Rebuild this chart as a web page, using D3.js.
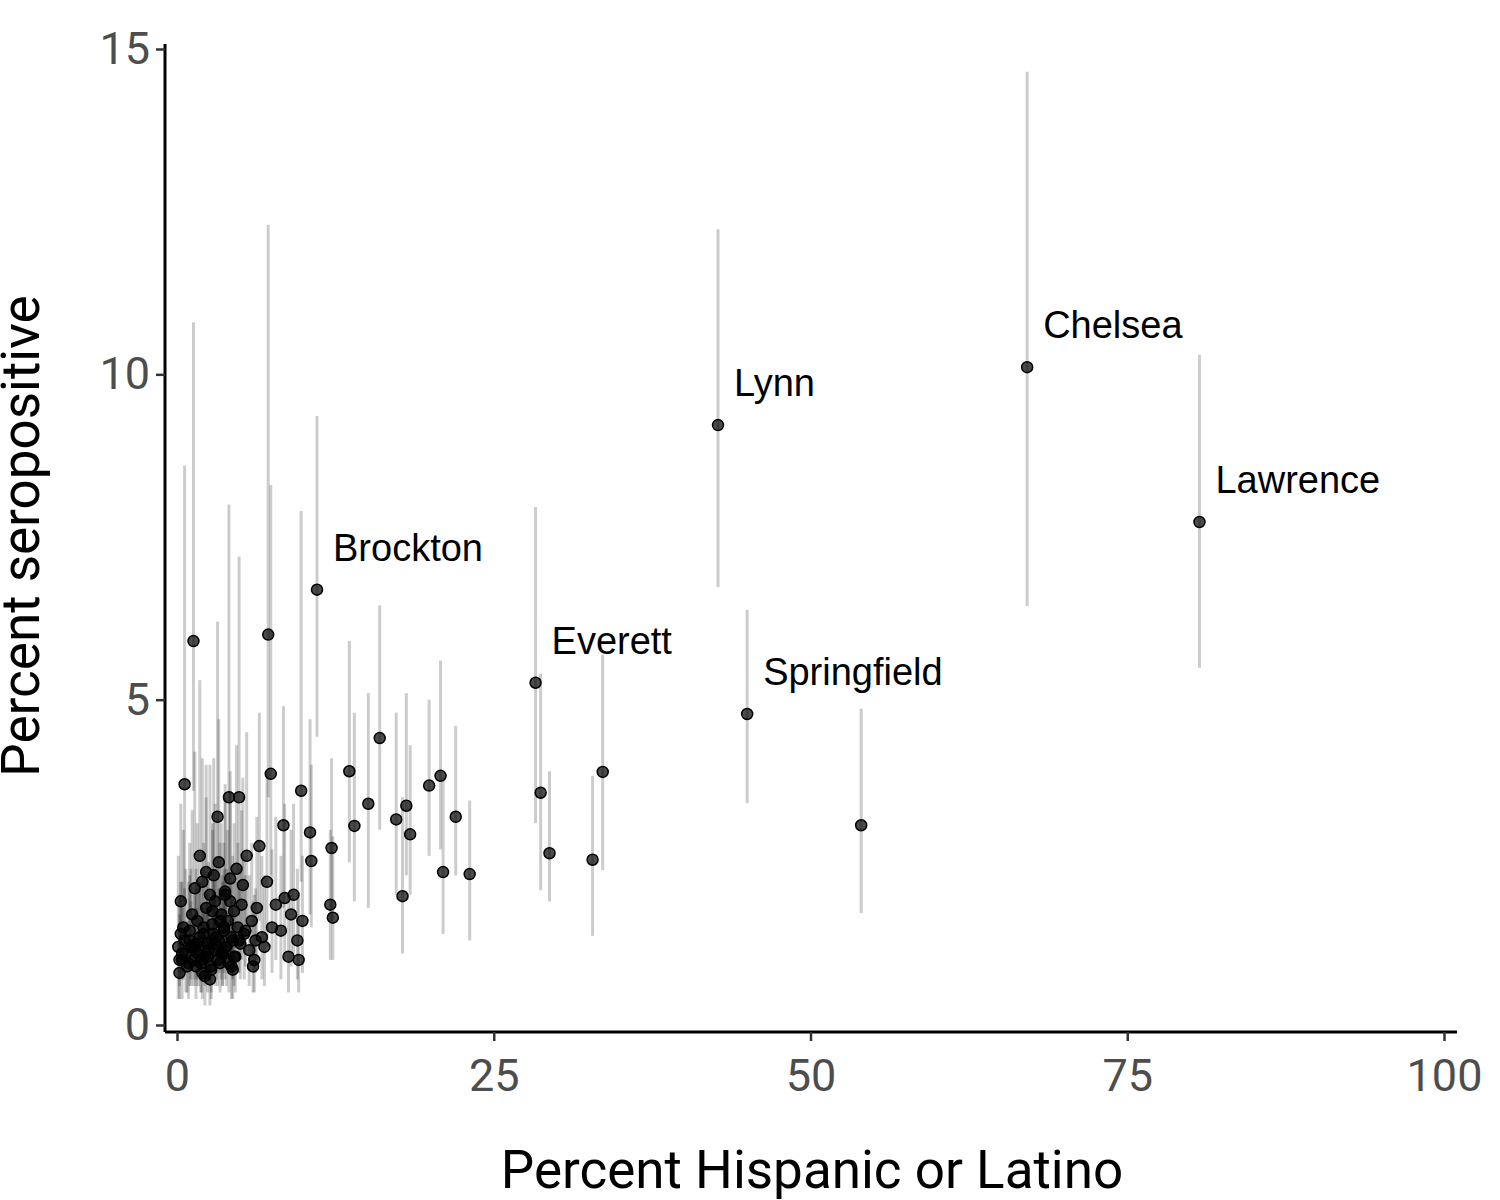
<!DOCTYPE html>
<html><head><meta charset="utf-8">
<script src="https://cdn.jsdelivr.net/npm/d3@7"></script>
<style>body{margin:0;background:#fff}</style>
</head><body>
<div id="chart"></div>
<script>
// Labelled towns
const labelNames = ['Chelsea', 'Lawrence', 'Lynn', 'Springfield', 'Everett', 'Brockton'];
const labelX  = [67.1, 80.7, 42.7, 45.0, 28.3, 11.05];
const labelY  = [10.11, 7.73, 9.22, 4.78, 5.26, 6.69];
const labelLo = [6.44, 5.49, 6.73, 3.41, 3.1, 4.43];
const labelHi = [14.65, 10.3, 12.23, 6.38, 7.96, 9.36];

// Other towns
const townX  = [54.0, 33.6, 32.8, 29.4, 28.7, 23.1, 22.0, 21.0, 20.8, 19.9, 18.4, 18.1, 17.8, 17.3, 16.0, 15.1, 14.0, 13.6, 12.3, 12.1, 12.2, 10.6, 10.5, 9.9, 9.8, 8.4, 7.4, 7.2, 1.3, 0.6, 4.9, 4.1, 3.2,
  0.1, 0.2, 0.3, 0.5, 0.7, 0.9, 1.0, 1.2, 1.4, 1.5, 1.6, 1.8, 1.9, 2.0, 2.1, 2.2, 2.3, 2.4, 2.5, 2.6, 2.7, 2.8, 2.9, 3.0, 3.1, 3.3, 3.4, 3.5, 3.6, 3.7, 3.8, 3.9, 4.0, 4.2, 4.3, 4.4, 4.5, 4.6, 4.7, 4.8, 5.0, 5.1, 5.3, 5.5, 5.7, 5.9, 6.1, 6.3, 6.5, 6.7, 6.9, 7.1, 7.5, 7.8, 8.2, 8.5, 8.8, 9.0, 9.2, 9.5, 9.6, 1.7, 2.3, 2.6, 3.0, 3.4, 3.8, 4.2, 0.4, 1.1, 5.2, 6.0, 2.0, 2.8, 3.6, 4.4, 1.5,
  0.2, 0.4, 0.8, 1.1, 1.3, 1.6, 1.9, 2.2, 2.5, 2.7, 3.0, 3.2, 3.5, 3.8, 4.1, 4.5, 4.9, 0.3, 0.6, 1.0, 1.4, 1.8, 2.1, 2.4, 2.9, 3.3, 3.7, 4.3, 5.4, 6.2];
const townY  = [3.07, 3.89, 2.54, 2.64, 3.57, 2.32, 3.2, 2.35, 3.83, 3.68, 2.93, 3.37, 1.98, 3.16, 4.41, 3.4, 3.06, 3.9, 1.65, 1.85, 2.72, 2.52, 2.96, 1.6, 3.6, 3.07, 3.86, 6.0, 5.9, 3.7, 3.5, 3.5, 3.2,
  1.2, 0.8, 1.9, 1.5, 1.1, 0.95, 1.3, 1.7, 2.1, 0.9, 1.6, 2.6, 1.0, 2.2, 1.4, 0.75, 1.8, 1.05, 1.25, 2.0, 0.85, 1.55, 2.3, 1.15, 1.35, 2.5, 0.95, 1.7, 1.1, 1.45, 2.05, 1.2, 1.6, 1.9, 0.9, 1.3, 1.75, 1.05, 2.4, 1.5, 1.25, 1.85, 1.4, 2.6, 1.15, 1.6, 1.0, 1.8, 2.75, 1.35, 1.2, 2.2, 1.5, 1.85, 1.45, 1.95, 1.05, 1.7, 2.0, 1.3, 1.0, 1.15, 2.35, 0.7, 1.9, 1.6, 2.0, 2.25, 1.0, 1.2, 2.15, 0.9, 0.8, 1.75, 1.1, 0.85, 1.25,
  1.0, 1.1, 0.9, 1.2, 1.0, 1.1, 0.95, 1.05, 1.15, 0.9, 1.25, 1.0, 1.1, 1.2, 0.95, 1.05, 1.3, 1.4, 1.3, 1.45, 1.2, 1.35, 1.5, 1.25, 1.4, 1.3, 1.5, 1.35, 1.45, 1.3];
const townLo = [1.72, 2.38, 1.37, 1.9, 2.07, 1.3, 2.3, 1.4, 2.7, 2.6, 2.0, 2.3, 1.1, 2.0, 3.0, 1.8, 1.9, 2.5, 1.0, 1.0, 1.6, 1.5, 1.7, 0.8, 2.2, 1.8, 2.3, 3.5, 3.6, 1.9, 1.9, 2.0, 1.9,
  0.4, 0.4, 1.0, 0.7, 0.5, 0.4, 0.6, 0.9, 1.1, 0.4, 0.9, 1.5, 0.5, 1.2, 0.7, 0.3, 1.0, 0.5, 0.7, 1.1, 0.4, 0.9, 1.3, 0.6, 0.7, 1.4, 0.5, 1.0, 0.6, 0.8, 1.1, 0.6, 0.9, 1.0, 0.4, 0.7, 1.0, 0.5, 1.3, 0.8, 0.7, 1.0, 0.7, 1.5, 0.6, 0.9, 0.5, 1.0, 1.6, 0.7, 0.6, 1.2, 0.8, 1.0, 0.7, 1.0, 0.5, 0.9, 1.1, 0.7, 0.5, 0.6, 1.4, 0.3, 1.1, 0.9, 1.1, 1.2, 0.4, 0.6, 1.2, 0.5, 0.4, 1.0, 0.6, 0.4, 0.6,
  0.6, 0.7, 0.5, 0.7, 0.6, 0.7, 0.5, 0.6, 0.7, 0.5, 0.8, 0.6, 0.7, 0.7, 0.5, 0.6, 0.8, 0.8, 0.8, 0.9, 0.7, 0.8, 0.9, 0.8, 0.9, 0.8, 0.9, 0.8, 0.9, 0.8];
const townHi = [4.86, 5.69, 3.83, 3.9, 5.4, 3.45, 4.6, 3.8, 5.6, 5.0, 4.3, 5.1, 3.5, 4.8, 6.45, 5.1, 4.8, 5.9, 2.9, 3.0, 4.1, 4.0, 4.7, 2.6, 7.9, 4.9, 8.3, 12.3, 10.8, 8.6, 7.2, 8.0, 6.2,
  2.6, 2.0, 3.4, 3.0, 2.4, 2.2, 2.8, 3.3, 4.2, 2.1, 3.1, 5.3, 2.2, 4.1, 2.8, 1.8, 3.5, 2.3, 2.5, 4.0, 1.9, 3.0, 4.1, 2.4, 2.6, 4.7, 2.1, 3.1, 2.3, 2.8, 3.7, 2.4, 3.0, 3.6, 1.9, 2.6, 3.1, 2.2, 4.3, 2.8, 2.4, 3.3, 2.6, 4.5, 2.3, 2.8, 2.0, 3.2, 4.8, 2.6, 2.3, 3.9, 2.7, 3.2, 2.6, 3.4, 2.0, 3.0, 3.4, 2.4, 2.0, 2.2, 4.0, 1.6, 3.4, 2.8, 3.5, 3.9, 2.2, 2.4, 3.8, 1.9, 1.8, 3.1, 2.2, 1.8, 2.4,
  1.7, 1.8, 1.6, 1.9, 1.7, 1.8, 1.6, 1.7, 1.8, 1.5, 2.0, 1.7, 1.8, 1.9, 1.6, 1.7, 2.1, 2.2, 2.1, 2.3, 2.0, 2.2, 2.4, 2.0, 2.2, 2.1, 2.4, 2.2, 2.3, 2.1];

const xTicks = [0, 25, 50, 75, 100];
const yTicks = [0, 5, 10, 15];

const W = 1500, H = 1200;
const x = d3.scaleLinear().domain([0, 100]).range([177, 1444]);
const y = d3.scaleLinear().domain([0, 15]).range([1025, 49]);

const svg = d3.select('#chart').append('svg').attr('width', W).attr('height', H);

const towns = townX.map((v, i) => ({ x: v, y: townY[i], lo: townLo[i], hi: townHi[i] }))
  .concat(labelX.map((v, i) => ({ x: v, y: labelY[i], lo: labelLo[i], hi: labelHi[i], name: labelNames[i] })));

// Error bars
svg.append('g').selectAll('line').data(towns).enter().append('line')
  .attr('x1', d => x(d.x)).attr('x2', d => x(d.x))
  .attr('y1', d => y(d.lo)).attr('y2', d => y(d.hi))
  .attr('stroke', '#000').attr('stroke-opacity', 0.2).attr('stroke-width', 3);

// Points
svg.append('g').selectAll('circle').data(towns).enter().append('circle')
  .attr('cx', d => x(d.x)).attr('cy', d => y(d.y)).attr('r', 5.5)
  .attr('fill', '#000').attr('fill-opacity', 0.7)
  .attr('stroke', '#000').attr('stroke-width', 1.5);

// Labels
svg.append('g').selectAll('text').data(towns.filter(d => d.name)).enter().append('text')
  .attr('x', d => x(d.x) + 16).attr('y', d => y(d.y) - 29)
  .style('font-family', '"Liberation Sans", Arial, sans-serif').style('font-size', '38px').attr('fill', '#000')
  .text(d => d.name);

// Axes
const xAxis = svg.append('g').attr('transform', 'translate(0,1032)')
  .call(d3.axisBottom(x).tickValues(xTicks).tickSize(9).tickPadding(12));
xAxis.select('.domain').attr('d', 'M165,0H1457').attr('stroke-width', 3);
const yAxis = svg.append('g').attr('transform', 'translate(165,0)')
  .call(d3.axisLeft(y).tickValues(yTicks).tickSize(9).tickPadding(6));
yAxis.select('.domain').attr('d', 'M0,44V1032').attr('stroke-width', 3);
[xAxis, yAxis].forEach(a => {
  a.selectAll('.tick line').attr('stroke', '#333').attr('stroke-width', 2.5);
  a.selectAll('.tick text').style('font-family', 'Roboto').style('font-size', '45px').attr('fill', '#4d4d4d');
});
xAxis.selectAll('.tick text').attr('dy', '0.85em');

svg.append('text').attr('x', 812).attr('y', 1188).attr('text-anchor', 'middle')
  .style('font-family', 'Roboto').style('font-size', '53px').text('Percent Hispanic or Latino');
svg.append('text').attr('transform', 'translate(39,536) rotate(-90)').attr('text-anchor', 'middle')
  .style('font-family', 'Roboto').style('font-size', '53px').text('Percent seropositive');
</script>
</body></html>
